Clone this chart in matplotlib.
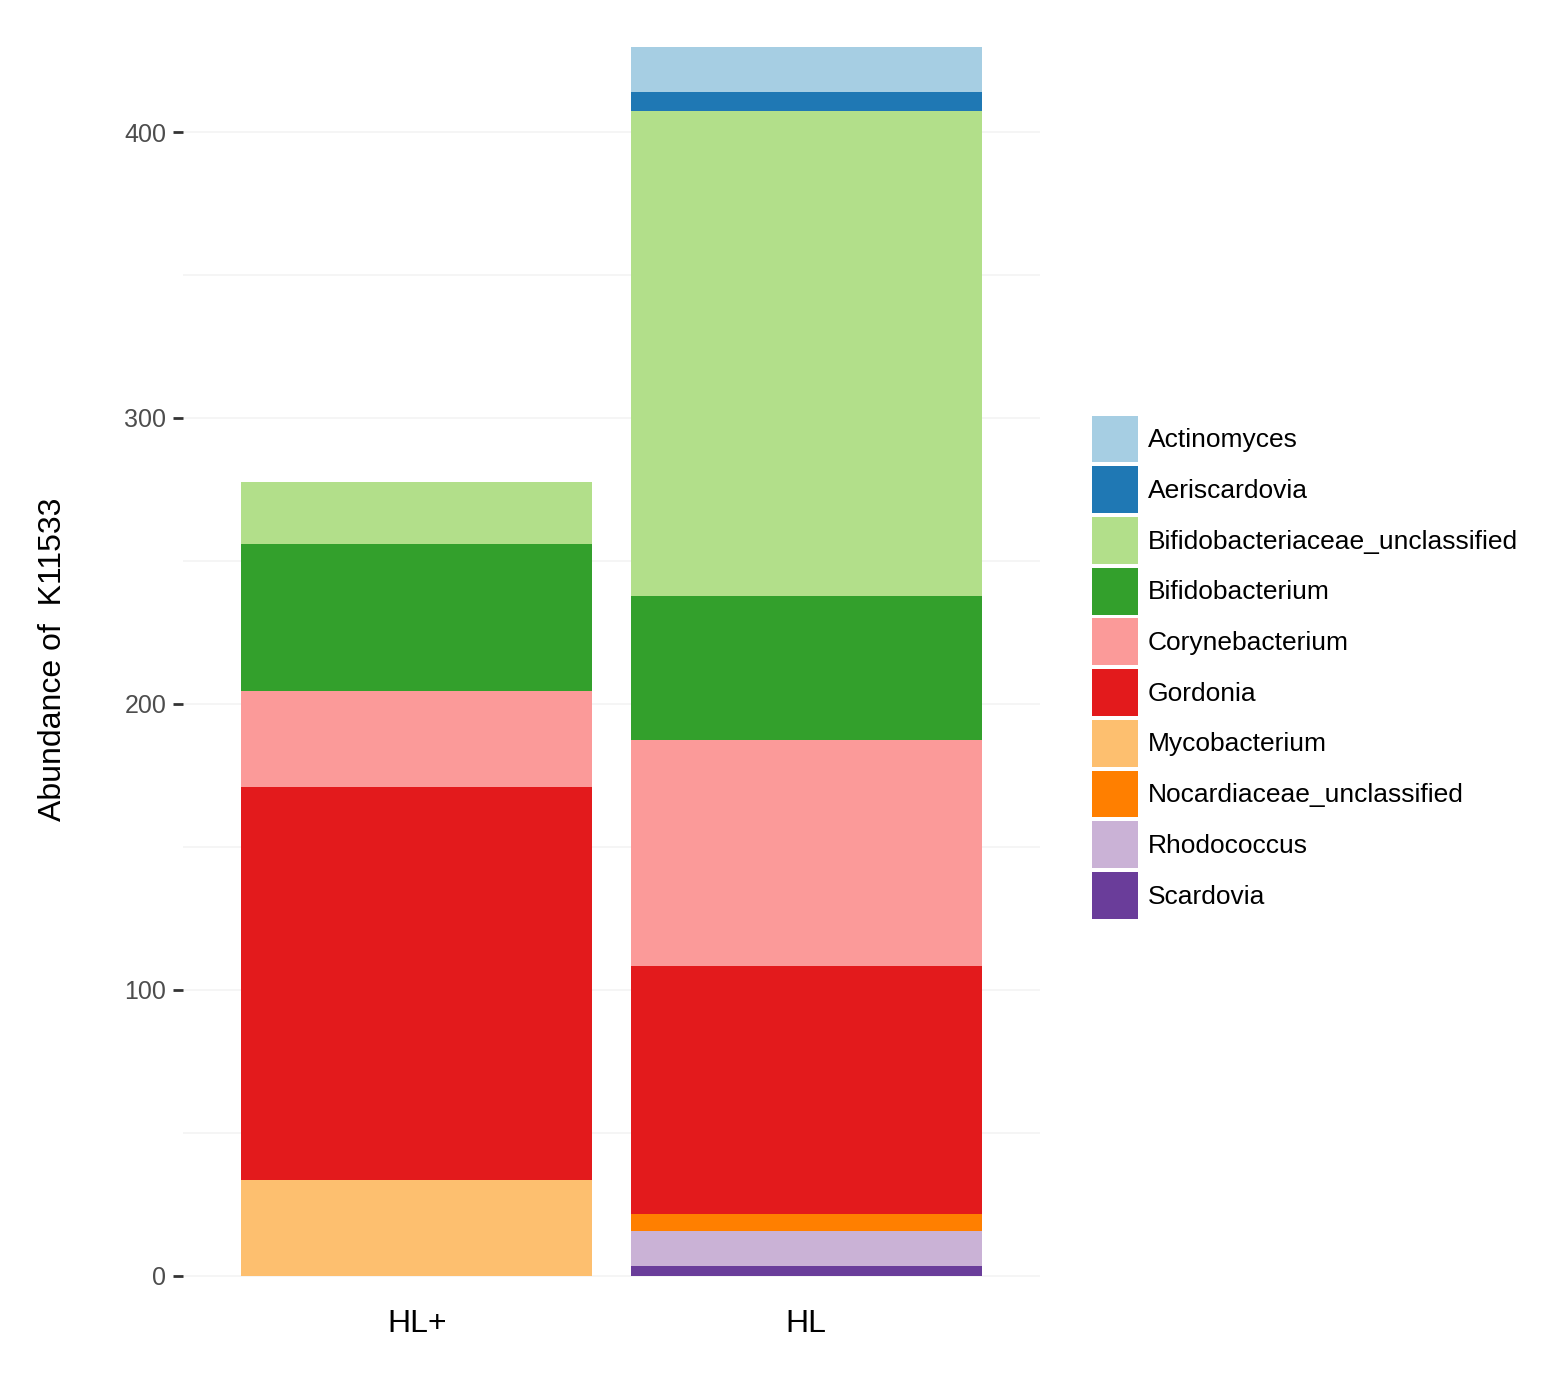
import matplotlib
matplotlib.use("Agg")
import matplotlib.pyplot as plt
import numpy as np

samples = ["HL+", "HL"]
genera = [
    "Actinomyces", "Aeriscardovia", "Bifidobacteriaceae_unclassified",
    "Bifidobacterium", "Corynebacterium", "Gordonia", "Mycobacterium",
    "Nocardiaceae_unclassified", "Rhodococcus", "Scardovia",
]
# abundance per genus, [HL+, HL]
abundance = {
    "Actinomyces": [0.0, 16.0],
    "Aeriscardovia": [0.0, 6.7],
    "Bifidobacteriaceae_unclassified": [21.5, 169.5],
    "Bifidobacterium": [51.5, 50.4],
    "Corynebacterium": [33.5, 79.0],
    "Gordonia": [137.5, 86.8],
    "Mycobacterium": [33.5, 0.0],
    "Nocardiaceae_unclassified": [0.0, 6.0],
    "Rhodococcus": [0.0, 12.2],
    "Scardovia": [0.0, 3.3],
}
# ColorBrewer "Paired"
colors = ["#a6cee3", "#1f78b4", "#b2df8a", "#33a02c", "#fb9a99",
          "#e31a1c", "#fdbf6f", "#ff7f00", "#cab2d6", "#6a3d9a"]
y_ticks = [0, 100, 200, 300, 400]

plt.rcParams["font.family"] = ["Liberation Sans", "DejaVu Sans"]

fig = plt.figure(figsize=(15.59, 13.76), dpi=100, facecolor="white")
ax = fig.add_axes([0.1174, 0.0625, 0.5497, 0.907])

x = np.arange(1, len(samples) + 1)
bottom = np.zeros(len(samples))
handles = []
# ggplot stacks the first level on top, so draw from the last level up
for name, col in reversed(list(zip(genera, colors))):
    vals = np.array(abundance[name])
    h = ax.bar(x, vals, width=0.9, bottom=bottom, color=col,
               edgecolor="none", label=name, zorder=3)
    handles.append(h)
    bottom += vals
handles = handles[::-1]

ax.set_xlim(0.4, 2.6)
ax.set_ylim(-5, 431.5)
ax.set_yticks(y_ticks)
ax.set_yticks([50, 150, 250, 350], minor=True)
ax.set_xticks(x)
ax.set_xticklabels(samples, fontsize=23, color="black")
ax.tick_params(axis="x", length=0, pad=14)
ax.tick_params(axis="y", which="major", length=7, width=2, color="#333333",
               labelsize=18, labelcolor="#4d4d4d", pad=5)
ax.tick_params(axis="y", which="minor", length=0)
for s in ax.spines.values():
    s.set_visible(False)
ax.grid(True, axis="y", which="both", color="#f4f4f4", linewidth=1.2,
        zorder=0)
ax.set_ylabel("Abundance of  K11533", fontsize=23, color="black")
ax.yaxis.set_label_coords(-0.134, 0.505)

fig.legend(handles=handles, labels=genera, loc="upper left",
           bbox_to_anchor=(0.7002, 0.698), frameon=False, fontsize=19,
           handlelength=1.74, handleheight=2.35, labelspacing=0.15,
           handletextpad=0.38, borderpad=0, borderaxespad=0)

fig.savefig("out.png", dpi=100, facecolor="white")
